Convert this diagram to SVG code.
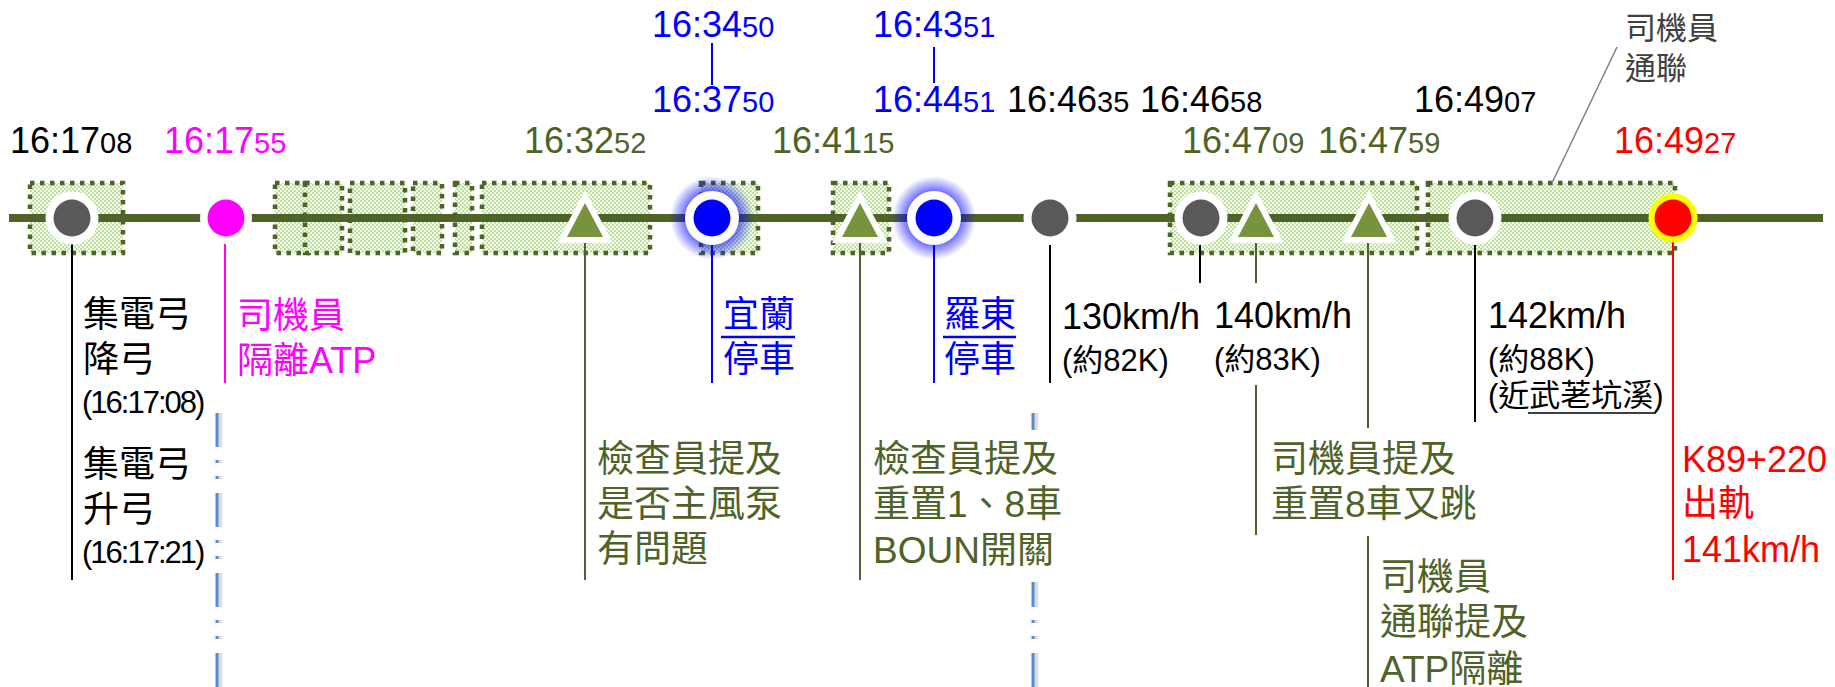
<svg xmlns="http://www.w3.org/2000/svg" width="1835" height="687" viewBox="0 0 1835 687">
<defs>
<style>
text{font-family:"Liberation Sans","Noto Sans CJK TC",sans-serif;}
.ts{font-size:36px;}
.sec{font-size:29px;}
.lb{font-size:36px;}
.lg{font-size:37px;fill:#4f6228;}
.sm{font-size:31px;}
.pt{font-size:31px;letter-spacing:-2px;}
.box{fill:url(#dots);stroke:#4f6228;stroke-width:4.5;stroke-dasharray:4.5 5.5;}
.blk{fill:#000;}
.mag{fill:#ff00ff;}
.grn{fill:#4f6228;}
.blu{fill:#0000ff;}
.red{fill:#ff0000;}
.gc{fill:#595959;stroke:#fff;stroke-width:16;paint-order:stroke;}
.bc{fill:#0000ff;stroke:#fff;stroke-width:17;paint-order:stroke;}
.tri{fill:#77933c;stroke:#fff;stroke-width:12;stroke-linejoin:miter;paint-order:stroke;}
.ld{stroke-width:2;fill:none;}
.dd{stroke:#5a8ad2;stroke-width:3;stroke-dasharray:34 13 3 13 3 14;fill:none;}
.ds{stroke:#c4c4c4;stroke-width:4;stroke-dasharray:34 13 3 13 3 14;fill:none;opacity:0.6;}
</style>
<pattern id="dots" width="4" height="4" patternUnits="userSpaceOnUse">
<rect width="4" height="4" fill="#f7fcf3"/>
<circle cx="1" cy="1" r="0.95" fill="#a6d979"/>
<circle cx="3" cy="3" r="0.95" fill="#a6d979"/>
</pattern>
<radialGradient id="glow">
<stop offset="0.55" stop-color="#0000ff" stop-opacity="0.7"/>
<stop offset="1" stop-color="#0000ff" stop-opacity="0"/>
</radialGradient>
</defs>
<rect width="1835" height="687" fill="#fff"/>

<g id="zones">
<rect class="box" x="30" y="183" width="93" height="70"/>
<rect class="box" x="275" y="183" width="38" height="70"/>
<rect class="box" x="305" y="183" width="37" height="70"/>
<rect class="box" x="350" y="183" width="55" height="70"/>
<rect class="box" x="413" y="183" width="29" height="70"/>
<rect class="box" x="455" y="183" width="17" height="70"/>
<rect class="box" x="482" y="183" width="168" height="70"/>
<rect class="box" x="701" y="183" width="57" height="70"/>
<rect class="box" x="833" y="183" width="56" height="70"/>
<rect class="box" x="1170" y="183" width="247" height="70"/>
<rect class="box" x="1428" y="183" width="247" height="70"/>
</g>

<g id="track">
<line x1="9" y1="218" x2="1823" y2="218" stroke="#4f6228" stroke-width="8"/>
</g>

<g id="separators">
<line class="ds" x1="220" y1="413" x2="220" y2="687"/>
<line class="dd" x1="217" y1="413" x2="217" y2="687"/>
<line class="ds" x1="1036" y1="413" x2="1036" y2="430"/>
<line class="dd" x1="1033" y1="413" x2="1033" y2="430"/>
<line class="ds" x1="1036" y1="582" x2="1036" y2="687" stroke-dashoffset="9"/>
<line class="dd" x1="1033" y1="582" x2="1033" y2="687" stroke-dashoffset="9"/>
</g>

<g id="connectors">
<line class="ld" x1="72" y1="240" x2="72" y2="580" stroke="#000"/>
<line class="ld" x1="225" y1="236" x2="225" y2="383" stroke="#ff00ff"/>
<line class="ld" x1="585" y1="238" x2="585" y2="580" stroke="#4f6228"/>
<line class="ld" x1="712" y1="43" x2="712" y2="85" stroke="#0000ff"/>
<line class="ld" x1="712" y1="240" x2="712" y2="383" stroke="#0000ff"/>
<line class="ld" x1="860" y1="238" x2="860" y2="580" stroke="#4f6228"/>
<line class="ld" x1="934" y1="47" x2="934" y2="83" stroke="#0000ff"/>
<line class="ld" x1="934" y1="240" x2="934" y2="383" stroke="#0000ff"/>
<line class="ld" x1="1050" y1="245" x2="1050" y2="383" stroke="#000"/>
<line class="ld" x1="1200" y1="245" x2="1200" y2="283" stroke="#000"/>
<line class="ld" x1="1256" y1="238" x2="1256" y2="283" stroke="#4f6228"/>
<line class="ld" x1="1256" y1="385" x2="1256" y2="535" stroke="#4f6228"/>
<line class="ld" x1="1368" y1="238" x2="1368" y2="428" stroke="#4f6228"/>
<line class="ld" x1="1368" y1="536" x2="1368" y2="687" stroke="#4f6228"/>
<line class="ld" x1="1475" y1="245" x2="1475" y2="422" stroke="#000"/>
<line class="ld" x1="1673" y1="240" x2="1673" y2="580" stroke="#ff0000"/>
<line x1="1617" y1="47" x2="1552" y2="183" stroke="#808080" stroke-width="1.5"/>
</g>

<g id="e1">
<circle class="gc" cx="72" cy="218" r="18.5"/>
<text class="ts blk" x="10" y="153">16:17<tspan class="sec">08</tspan></text>
<text class="lb blk" x="83" y="327">集電弓</text>
<text class="lb blk" x="83" y="372">降弓</text>
<text class="pt blk" x="82" y="413">(16:17:08)</text>
<text class="lb blk" x="83" y="477">集電弓</text>
<text class="lb blk" x="83" y="522">升弓</text>
<text class="pt blk" x="82" y="563">(16:17:21)</text>
</g>

<g id="e2">
<circle cx="226" cy="218" r="18.5" fill="#ff00ff" stroke="#fff" stroke-width="15" paint-order="stroke"/>
<text class="ts mag" x="164" y="153">16:17<tspan class="sec">55</tspan></text>
<text class="lb mag" x="237" y="328">司機員</text>
<text class="lb mag" x="237" y="373">隔離ATP</text>
</g>

<g id="e3">
<polygon class="tri" points="585,203 567,237 603,237"/>
<text class="ts grn" x="524" y="153">16:32<tspan class="sec">52</tspan></text>
<text class="lg" x="597" y="472">檢查員提及</text>
<text class="lg" x="597" y="517">是否主風泵</text>
<text class="lg" x="597" y="562">有問題</text>
</g>

<g id="e4">
<circle cx="712" cy="218" r="42" fill="url(#glow)"/>
<circle class="bc" cx="712" cy="218" r="18.5"/>
<text class="ts blu" x="652" y="37">16:34<tspan class="sec">50</tspan></text>
<text class="ts blu" x="652" y="112">16:37<tspan class="sec">50</tspan></text>
<text class="lb blu" x="723" y="327">宜蘭</text>
<line x1="721" y1="337" x2="795" y2="337" stroke="#0000ff" stroke-width="2.5"/>
<text class="lb blu" x="723" y="372">停車</text>
</g>

<g id="e5">
<polygon class="tri" points="860,203 842,237 878,237"/>
<text class="ts grn" x="772" y="153">16:41<tspan class="sec">15</tspan></text>
<text class="lg" x="873" y="472">檢查員提及</text>
<text class="lg" x="873" y="517">重置1、8車</text>
<text class="lg" x="873" y="563">BOUN開關</text>
</g>

<g id="e6">
<circle cx="934" cy="218" r="42" fill="url(#glow)"/>
<circle class="bc" cx="934" cy="218" r="18.5"/>
<text class="ts blu" x="873" y="37">16:43<tspan class="sec">51</tspan></text>
<text class="ts blu" x="873" y="112">16:44<tspan class="sec">51</tspan></text>
<text class="lb blu" x="944" y="327">羅東</text>
<line x1="943" y1="337" x2="1016" y2="337" stroke="#0000ff" stroke-width="2.5"/>
<text class="lb blu" x="944" y="372">停車</text>
</g>

<g id="e7">
<circle class="gc" cx="1050" cy="218" r="18.5"/>
<text class="ts blk" x="1007" y="112">16:46<tspan class="sec">35</tspan></text>
<text class="blk" x="1062" y="329" font-size="36">130km/h</text>
<text class="sm blk" x="1062" y="371">(約82K)</text>
</g>

<g id="e8">
<circle class="gc" cx="1201" cy="218" r="18.5"/>
<text class="ts blk" x="1140" y="112">16:46<tspan class="sec">58</tspan></text>
<text class="blk" x="1214" y="328" font-size="36">140km/h</text>
<text class="sm blk" x="1214" y="370">(約83K)</text>
</g>

<g id="e9">
<polygon class="tri" points="1256,203 1238,237 1274,237"/>
<text class="ts grn" x="1182" y="153">16:47<tspan class="sec">09</tspan></text>
<text class="lg" x="1271" y="472">司機員提及</text>
<text class="lg" x="1271" y="517">重置8車又跳</text>
</g>

<g id="e10">
<polygon class="tri" points="1369,203 1351,237 1387,237"/>
<text class="ts grn" x="1318" y="153">16:47<tspan class="sec">59</tspan></text>
<text class="lg" x="1380" y="590">司機員</text>
<text class="lg" x="1380" y="635">通聯提及</text>
<text class="lg" x="1380" y="682">ATP隔離</text>
</g>

<g id="e11">
<circle class="gc" cx="1475" cy="218" r="18.5"/>
<text class="ts blk" x="1414" y="112">16:49<tspan class="sec">07</tspan></text>
<text class="blk" x="1488" y="328" font-size="36">142km/h</text>
<text class="sm blk" x="1488" y="370">(約88K)</text>
<text class="sm blk" x="1488" y="406">(近武荖坑溪)</text>
<line x1="1528" y1="413" x2="1656" y2="413" stroke="#000" stroke-width="1.5"/>
</g>

<g id="e12">
<circle cx="1673" cy="218" r="18.5" fill="#ff0000" stroke="#ffff00" stroke-width="12" paint-order="stroke"/>
<text class="ts red" x="1614" y="153">16:49<tspan class="sec">27</tspan></text>
<text class="red" x="1682" y="472" font-size="36">K89+220</text>
<text class="lb red" x="1682" y="516">出軌</text>
<text class="red" x="1682" y="562" font-size="36">141km/h</text>
</g>

<g id="callout">
<text fill="#404040" font-size="31" x="1625" y="39">司機員</text>
<text fill="#404040" font-size="31" x="1625" y="79">通聯</text>
</g>
</svg>
